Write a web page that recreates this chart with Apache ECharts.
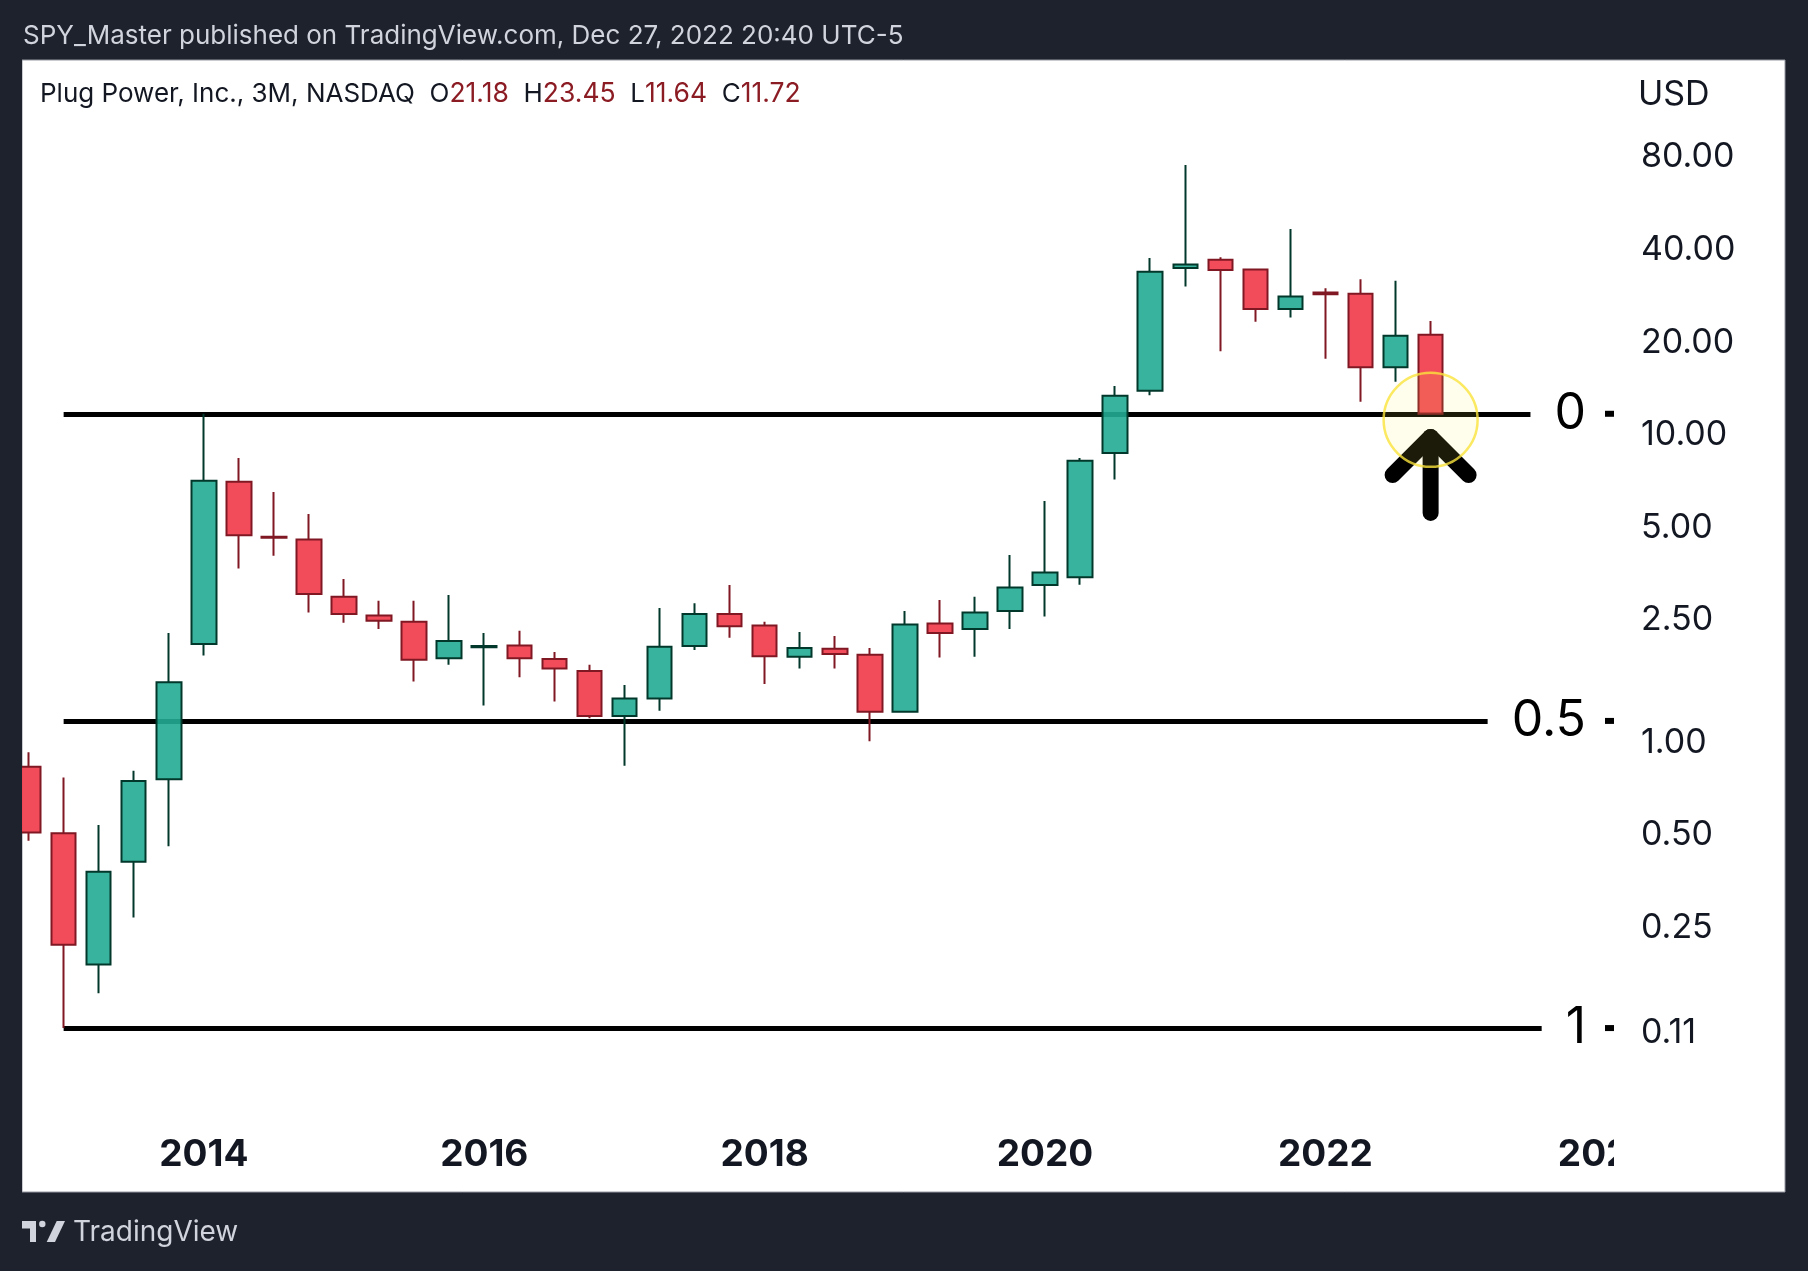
<!DOCTYPE html>
<html>
<head>
<meta charset="utf-8">
<title>PLUG 3M</title>
<script src="https://cdn.jsdelivr.net/npm/echarts@6/dist/echarts.min.js"></script>
<style>
  html, body { margin: 0; padding: 0; background: #1e222d; }
  #chart { position: absolute; left: 22px; top: 0; width: 1786px; height: 1271px; }
</style>
</head>
<body>
<div id="chart"></div>
<script>
// quarterly candles, Plug Power (PLUG)
var quarters = ['2012-Q4',
    '2013-Q1', '2013-Q2', '2013-Q3', '2013-Q4', '2014-Q1', '2014-Q2', '2014-Q3', '2014-Q4',
    '2015-Q1', '2015-Q2', '2015-Q3', '2015-Q4', '2016-Q1', '2016-Q2', '2016-Q3', '2016-Q4',
    '2017-Q1', '2017-Q2', '2017-Q3', '2017-Q4', '2018-Q1', '2018-Q2', '2018-Q3', '2018-Q4',
    '2019-Q1', '2019-Q2', '2019-Q3', '2019-Q4', '2020-Q1', '2020-Q2', '2020-Q3', '2020-Q4',
    '2021-Q1', '2021-Q2', '2021-Q3', '2021-Q4', '2022-Q1', '2022-Q2', '2022-Q3', '2022-Q4'];
var opens = [0.835,
    0.507, 0.19, 0.41, 0.76, 2.09, 7.05, 4.67, 4.57,
    2.98, 2.59, 2.47, 1.88, 2.04, 2.07, 1.87, 1.71,
    1.22, 1.39, 2.06, 2.62, 2.40, 1.90, 2.02, 1.93,
    1.26, 2.44, 2.34, 2.68, 3.25, 3.45, 8.74, 13.93,
    34.9, 37.1, 34.5, 25.7, 29.06, 28.8, 16.6, 21.18];
var highs = [0.93,
    0.77, 0.54, 0.81, 2.27, 11.72, 8.42, 6.53, 5.53,
    3.40, 2.89, 2.89, 3.02, 2.27, 2.31, 1.97, 1.79,
    1.54, 2.74, 2.84, 3.25, 2.47, 2.29, 2.22, 2.03,
    2.68, 2.91, 2.98, 4.07, 6.10, 8.42, 14.43, 37.6,
    75.5, 37.8, 34.6, 46.7, 30.0, 32.1, 31.7, 23.45];
var lows = [0.48,
    0.118, 0.153, 0.27, 0.46, 1.92, 3.68, 4.05, 2.65,
    2.45, 2.34, 1.58, 1.79, 1.32, 1.63, 1.36, 1.20,
    0.84, 1.27, 2.00, 2.19, 1.55, 1.74, 1.74, 1.01,
    1.25, 1.89, 1.90, 2.34, 2.57, 3.26, 7.16, 13.46,
    30.4, 18.7, 23.35, 24.1, 17.7, 12.83, 14.9, 11.64];
var closes = [0.51,
    0.22, 0.38, 0.75, 1.57, 7.1, 4.72, 4.63, 3.04,
    2.62, 2.49, 1.86, 2.14, 2.06, 1.88, 1.74, 1.22,
    1.39, 2.05, 2.62, 2.39, 1.91, 2.03, 1.94, 1.26,
    2.42, 2.27, 2.65, 3.19, 3.57, 8.25, 13.42, 33.95,
    35.8, 34.4, 25.7, 28.2, 28.7, 16.6, 21.0, 11.72];

var yTickValues = [80, 40, 20, 10, 5, 2.5, 1, 0.5, 0.25, 0.114];
var xTickValues = [2014, 2016, 2018, 2020, 2022, 2024];

// fib retracement drawn from the 11.72 level down to the all time low
var fibLevels = [0, 0.5, 1];
var fibTop = 11.72;

// drawings on the last candle
var circleAt = { quarter: '2022-Q4', price: 11.2 };
var arrowAt = { quarter: '2022-Q4', tip: 9.85, tail: 5.58 };

var xMin = 2012.703, xMax = 2024.058;

function quarterX(q) {
    var p = q.split('-Q');
    return +p[0] + (p[1] - 1) / 4;
}

var candles = quarters.map(function (q, i) {
    return [quarterX(q), opens[i], closes[i], lows[i], highs[i]];
});

var lowIdx = lows.indexOf(Math.min.apply(null, lows));
var fibBottom = lows[lowIdx];
function fibPrice(l) {
    return Math.exp(Math.log(fibTop) + l * (Math.log(fibBottom) - Math.log(fibTop)));
}

var last = quarters.length - 1;
var legendText = '{k|Plug Power, Inc., 3M, NASDAQ}  ' +
    '{k|O}{v|' + opens[last].toFixed(2) + '}  ' +
    '{k|H}{v|' + highs[last].toFixed(2) + '}  ' +
    '{k|L}{v|' + lows[last].toFixed(2) + '}  ' +
    '{k|C}{v|' + closes[last].toFixed(2) + '}';

var dom = document.getElementById('chart');
var myChart = echarts.init(dom);

var option = {
    animation: false,
    backgroundColor: '#1e222d',
    textStyle: { fontFamily: 'Inter' },
    title: [
        {
            text: 'SPY_Master published on TradingView.com, Dec 27, 2022 20:40 UTC-5',
            left: 1, top: 23, padding: 0,
            textStyle: { color: '#d1d4dc', fontSize: 26, fontWeight: 'normal', lineHeight: 26 }
        },
        {
            text: legendText,
            left: 18, top: 81, padding: 0,
            textStyle: {
                fontSize: 26, lineHeight: 26, color: '#131722', fontWeight: 'normal',
                rich: {
                    k: { fontSize: 26, color: '#131722', fontWeight: 'normal' },
                    v: { fontSize: 26.5, color: '#8c1c24', fontWeight: 'normal' }
                }
            }
        },
        {
            text: 'USD',
            left: 1616, top: 78, padding: 0,
            textStyle: { color: '#131722', fontSize: 34, fontWeight: 'normal', lineHeight: 34 }
        },
        {
            text: 'TradingView',
            left: 51, top: 1219, padding: 0,
            textStyle: { color: '#d1d4dc', fontSize: 28, fontWeight: 'normal', lineHeight: 28 }
        }
    ],
    graphic: [
        {
            type: 'rect', z: -10, silent: true,
            shape: { x: 0, y: 60, width: 1763, height: 1132 },
            style: { fill: '#ffffff', stroke: '#9598a1', lineWidth: 1 }
        },
        {
            // price scale hides the end of the last year label
            type: 'rect', z: 100, silent: true,
            shape: { x: 1592, y: 1122, width: 110, height: 64 },
            style: { fill: '#ffffff' }
        },
        {
            type: 'group', silent: true,
            children: [
                { type: 'rect', shape: { x: 0, y: 1221, width: 14, height: 7.5 }, style: { fill: '#d1d4dc' } },
                { type: 'rect', shape: { x: 8, y: 1221, width: 6, height: 21 }, style: { fill: '#d1d4dc' } },
                { type: 'circle', shape: { cx: 20.3, cy: 1224, r: 3.2 }, style: { fill: '#d1d4dc' } },
                { type: 'polygon', shape: { points: [[24.7, 1242], [33, 1242], [43, 1221], [34.7, 1221]] }, style: { fill: '#d1d4dc' } }
            ]
        }
    ],
    grid: {
        left: 0,
        right: 194,
        top: 60,
        bottom: 161
    },
    xAxis: {
        type: 'value',
        min: xMin,
        max: xMax,
        axisLine: { show: false },
        axisTick: { show: false },
        splitLine: { show: false },
        axisLabel: {
            customValues: xTickValues,
            formatter: function (v) { return String(v); },
            fontSize: 37,
            fontWeight: 'bold',
            color: '#131722',
            margin: 26
        }
    },
    yAxis: {
        type: 'log',
        logBase: 10,
        min: 0.0639,
        max: 165.6,
        position: 'right',
        axisLine: { show: false },
        axisTick: { show: false },
        splitLine: { show: false },
        axisLabel: {
            customValues: yTickValues,
            formatter: function (v) { return v.toFixed(2); },
            fontSize: 34,
            color: '#131722',
            align: 'left',
            margin: 27
        }
    },
    series: [
        {
            name: 'PLUG',
            type: 'candlestick',
            data: candles,
            barWidth: 25,
            silent: true,
            itemStyle: {
                color: 'rgba(34,172,147,0.9)',
                color0: 'rgba(241,56,72,0.9)',
                borderColor: '#02372b',
                borderColor0: '#801824',
                borderWidth: 2
            },
            markLine: {
                z: 1,
                silent: true,
                symbol: ['none', 'none'],
                animation: false,
                lineStyle: { color: '#000000', width: 5, type: 'solid' },
                label: {
                    show: true,
                    position: 'insideEndTop',
                    distance: 0,
                    align: 'right',
                    verticalAlign: 'middle',
                    backgroundColor: '#ffffff',
                    padding: [0, 0, 0, 24],
                    formatter: function (p) {
                        return '{t|' + p.name + '}{g| }{d| }';
                    },
                    rich: {
                        t: { fontSize: 50, color: '#000000', lineHeight: 56 },
                        g: { width: 19 },
                        d: { width: 9, height: 6, backgroundColor: '#000000' }
                    }
                },
                data: fibLevels.map(function (l) {
                    return [
                        { name: String(l), coord: [quarterX(quarters[lowIdx]), fibPrice(l)] },
                        { coord: [xMax, fibPrice(l)] }
                    ];
                })
            }
        },
        {
            name: 'arrow',
            type: 'custom',
            z: 5,
            silent: true,
            data: [[quarterX(arrowAt.quarter), arrowAt.tip, arrowAt.tail]],
            encode: { x: 0, y: [1, 2] },
            renderItem: function (params, api) {
                var tip = api.coord([api.value(0), api.value(1)]);
                var tail = api.coord([api.value(0), api.value(2)]);
                var arm = 38;
                return {
                    type: 'group',
                    children: [
                        {
                            type: 'polyline',
                            shape: { points: [[tip[0] - arm, tip[1] + arm], [tip[0], tip[1]], [tip[0] + arm, tip[1] + arm]] },
                            style: { stroke: '#000000', lineWidth: 16, fill: null, lineCap: 'round', lineJoin: 'round' }
                        },
                        {
                            type: 'line',
                            shape: { x1: tip[0], y1: tip[1], x2: tail[0], y2: tail[1] },
                            style: { stroke: '#000000', lineWidth: 16, lineCap: 'round' }
                        }
                    ]
                };
            }
        },
        {
            name: 'circle',
            type: 'scatter',
            z: 6,
            silent: true,
            symbol: 'circle',
            symbolSize: 94,
            data: [[quarterX(circleAt.quarter), circleAt.price]],
            itemStyle: {
                color: 'rgba(255,236,73,0.11)',
                borderColor: 'rgba(250,228,60,0.8)',
                borderWidth: 2.5,
                opacity: 1
            }
        }
    ]
};

myChart.setOption(option);
</script>
</body>
</html>
